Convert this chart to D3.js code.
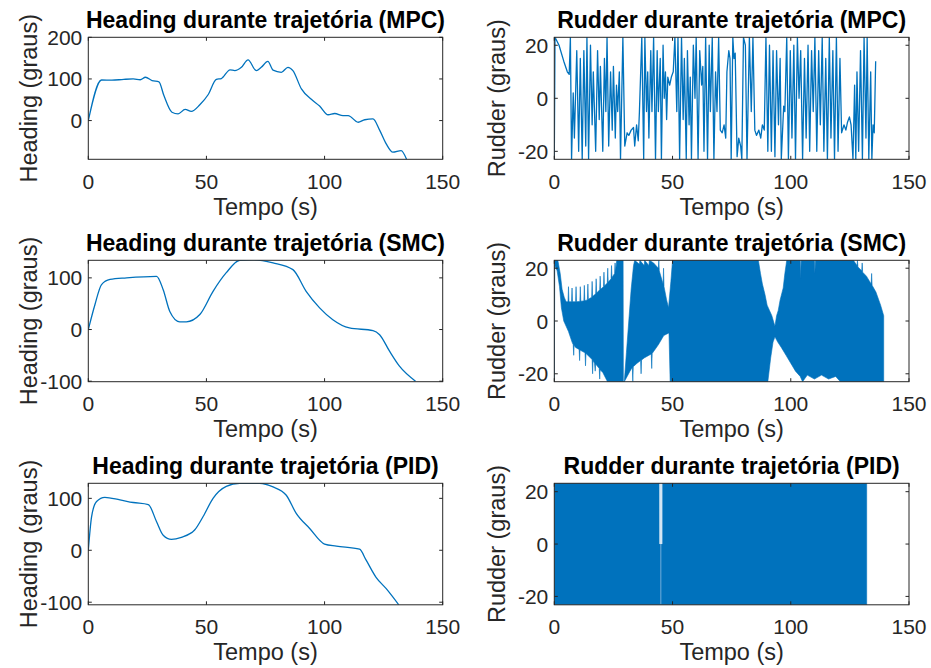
<!DOCTYPE html>
<meta charset="utf-8">
<style>
body { margin: 0; background: #fff; }
text { font-family: "Liberation Sans", Arial, Helvetica, sans-serif; fill: #262626; }
.tick-label { font-size: 21px; }
.axis-label { font-size: 23.5px; }
.title { font-size: 23px; font-weight: bold; fill: #000; }
.frame { fill: none; stroke: #262626; stroke-width: 1; }
.tick { stroke: #262626; stroke-width: 1; }
.trace { fill: none; stroke: #0072BD; stroke-width: 1.3; stroke-linejoin: round; }
.band { fill: #0072BD; stroke: #0072BD; stroke-width: 0.6; }
</style>
<body>
<svg width="931" height="668"></svg>
<script src="https://d3js.org/d3.v7.min.js"></script>
<script>

// ---- data ----
var tempoTicks = [0, 50, 100, 150];
var headingTicksMPC = [0, 100, 200];
var headingTicks = [-100, 0, 100];
var rudderTicks = [-20, 0, 20];

var headingMPC = [[0,0],[5.6,97.5],[10,97],[15,99],[19,100],[22,98],[24.2,104],[27,96],[29.9,93],[32,60],
  [35.4,20],[38,16],[41,27],[43.6,22],[47.2,38],[50.7,62],[54.2,99],[56.3,101],[60,122],[62,120],
  [64.8,128],[67.6,146],[71.1,120],[73.2,128],[76,142],[78.2,121],[81.7,116],[84.5,128],[86.6,120],
  [90.2,76],[94.4,51],[97.9,35],[101.5,14],[104.3,17],[107.8,12],[110,12],[114.2,-4],[117,2],
  [120.5,4],[123.3,-23],[126.1,-56],[128.9,-76],[132.4,-72],[134.8,-94]];

var headingSMC = [[0,0],[2.8,48],[5.6,87],[9.2,97],[16.2,100],[28.9,103],[31.7,77],[34.5,35],[38.7,15],
  [41.5,15],[47.2,29],[52.8,74],[58.4,110],[64.1,134],[69.7,135],[78.2,129],[86.6,116],[92.2,74],
  [97.9,42],[103.5,19],[110.5,3],[120.5,-2],[123.3,-10],[127.5,-42],[131.7,-71],[138.5,-100]];

var headingPID = [[0,0],[1.4,65],[3.5,94],[7,102],[13.4,97],[19,92],[25.4,88],[28.9,55],[31.7,29],
  [35.2,21],[39.4,25],[45,39],[48.6,65],[52.8,100],[58.4,123],[64.1,129],[72.5,129],[78.2,122],
  [83.8,106],[88,71],[93.7,42],[100,12],[105,8],[114.8,2],[117.6,-19],[121.8,-52],[126.1,-74],[131.4,-105]];

var rudderMPC = [[0,-23],[0.3,23],[2,20],[4,14],[5.5,10],[6.3,9],[6.8,23],[7.3,-23],[8,2],[8.5,-15],
  [9.5,18],[10.3,-20],[11,15],[11.8,-23],[12.5,18],[13.3,-18],[13.8,23],[14.5,-23],[15.3,20],[16,-10],
  [16.5,10],[17.5,-20],[18.3,18],[19,-8],[19.5,12],[20.5,-20],[21.2,15],[21.8,-5],[22.3,23],[23,-18],
  [23.8,10],[24.5,-12],[25,12],[25.8,-15],[26.3,5],[26.8,-5],[27.5,10],[28,-23],[29,23],[29.8,-18],
  [30.8,-13],[31.5,-14],[32.5,-12],[33.5,-11],[34,-18],[34.8,-10],[35.5,-16],[36,-5],[37,23],[37.8,-23],
  [38.3,23],[39,-5],[39.5,10],[40,-15],[40.8,18],[41.3,-5],[42,23],[42.8,-23],[43.5,18],[44,-5],
  [44.8,15],[45.3,-23],[46,20],[46.5,0],[47,10],[47.5,-8],[48,8],[48.8,5],[49.5,8],[50.3,10],
  [51,23],[51.8,-5],[52.3,23],[53,-23],[53.8,23],[54.5,-8],[55,15],[55.8,-23],[56.3,18],[57,-10],
  [57.5,8],[58,-23],[58.8,20],[59.5,0],[60,23],[60.8,-23],[61.5,18],[62.3,5],[62.8,12],[63.3,-20],
  [64,23],[64.8,-23],[65.5,20],[66,-5],[66.8,23],[67.5,-23],[68.2,10],[68.8,-5],[69.5,23],[70.2,-12],
  [71,-13],[71.8,-10],[72.5,-15],[73,10],[73.8,18],[74.3,15],[74.8,-23],[75.5,23],[76,15],[76.5,17],
  [77.3,-22],[78,-15],[78.8,-18],[79.3,-23],[80,23],[80.8,20],[81.5,-23],[82.5,23],[83.3,-5],[84,23],
  [84.8,-12],[85.5,-14],[86.5,-12],[87.3,-15],[88,-10],[88.8,-12],[89.5,23],[90.3,-20],[91,20],[91.8,-20],
  [92.5,18],[93.3,-22],[94,18],[94.8,-10],[95.5,15],[96,-23],[97,-3],[97.5,-5],[98.3,23],[99,-23],
  [99.8,18],[100.5,-15],[101.3,20],[102,-23],[102.8,23],[103.5,0],[104.2,18],[105,-23],[105.8,15],[106.5,-15],
  [107.3,20],[108,-20],[108.8,18],[109.5,-5],[110.2,23],[111,-20],[111.8,18],[112.5,-10],[113.3,23],[114,-20],
  [114.8,15],[115.5,-23],[116.3,23],[117,-15],[117.8,18],[118.5,-23],[119.3,23],[120,-20],[120.8,15],[121.5,-13],
  [122.5,-10],[123.3,-12],[124,-9],[124.8,-7],[125.5,-10],[126.3,-23],[127,5],[127.5,-23],[128,10],[128.7,-20],
  [129.5,18],[130.3,-23],[131,23],[131.8,-15],[132.3,23],[133,-23],[133.8,10],[134.3,-23],[134.8,-10],[135.3,-13],
  [135.9,14]];

// SMC and PID rudder chatter so fast that the trace fills a band: upper / lower envelopes
var rudderSMCUpper = [[0,23],[1.5,23],[2.5,18],[3.3,12],[4.2,9],[5,7.3],[5.8,7.3],[6,13],[6.2,7.3],
  [7.3,7.3],[7.5,12.5],[7.7,7.3],[9,7.3],[9.2,13],[9.4,7.3],[10.8,7.4],[11,13],[11.2,7.5],[12.5,7.6],
  [12.7,13.5],[12.9,7.7],[14,8],[14.2,14],[14.4,8.2],[15.8,9],[16,15],[16.2,9.3],[17.5,10.3],[17.7,16],
  [17.9,10.6],[19.2,11.8],[19.4,17],[19.6,12],[20.8,13],[21,18.5],[21.2,13.3],[22.4,14.4],[22.6,20],
  [22.8,14.7],[24,16],[24.2,21],[24.4,16.5],[25.5,18],[25.7,22],[25.9,18.5],[26.4,23],
  [29.1,23],[29.2,-23],[29.6,-23],[30.5,-12],[31.5,0],[32.5,12],[33.5,21],[34,23],[36,21.5],[36.2,23],
  [38,21],[38.2,23],[40,21],[40.2,23],[42,22],[44,20],[44.2,23],[44.4,19],[46,14],[46.2,20],[46.4,13],
  [47.5,8],[48.3,5],[49.3,15],[50,23],[86.3,23],[87.2,18],[88,14],[89.1,10],[90,6],[91,4],[92,2],
  [93.3,-2],[94,2],[94.7,4],[95.5,8],[96.8,12.5],[97.5,18],[98.3,23],[104,23],[104.2,16],[104.4,23],
  [110,23],[110.2,18],[110.4,23],[126.5,23],[128,21],[128.2,23],[128.4,20.5],[130,19],[130.2,22],
  [130.4,18.5],[132,17],[134,14],[134.2,18],[134.4,13.5],[136,11],[138,6],[139.3,2]];
var rudderSMCLower = [[0,-23],[0.2,21],[1.2,19],[2.2,13],[3,5],[4,0],[5,-2],[6,-4],[7.5,-8],[8,-9],
  [8.2,-13],[8.4,-9.2],[9,-10],[10.5,-10.8],[10.7,-15],[10.9,-11],[12,-11.6],[13,-12],[13.2,-17],
  [13.4,-12.3],[16,-14.6],[16.2,-20],[16.4,-15],[17,-16],[17.3,-19],[17.5,-16.3],[19,-18],[19.2,-22],
  [19.4,-18.5],[20.5,-19.5],[22.5,-23],[29.6,-23],[32,-19],[33,-17.5],[33.2,-23],[33.4,-17.3],[35,-16],
  [36.5,-15],[36.7,-20],[36.9,-14.8],[38,-14],[41,-12.5],[41.2,-18],[41.4,-12.3],[44,-9],[46.3,-5.5],
  [48.5,-4.5],[49,-23],[90.3,-23],[91.5,-14],[92.5,-8],[93.3,-6],[94.5,-8],[96,-10],[98,-13],[100,-16],
  [102,-19],[104,-21],[105,-23],[107,-20.5],[110,-22],[113,-20.5],[116,-22],[119,-21],[121,-23],
  [137.5,-23],[139.3,-23]];

var rudderPIDUpper = [[0,23.2],[44.4,23.2],[44.45,0],[45.65,0],[45.7,23.2],[132.1,23.2]];
var rudderPIDLower = [[0,-23.2],[132.1,-23.2]];
var pidGap = [44.45, 45.65];

// ---- layout ----
var svg = d3.select("svg");
var cols = [[88.3, 442.7], [554.3, 909]];
var rows = [[37.3, 159.3], [260.3, 381.7], [483.3, 604.8]];

var panels = [
  {r:0, c:0, title:"Heading durante trajetória (MPC)", ylab:"Heading (graus)", ydom:[-93,200], yt:headingTicksMPC, line:headingMPC, smooth:true},
  {r:0, c:1, title:"Rudder durante trajetória (MPC)", ylab:"Rudder (graus)", ydom:[-23,23], yt:rudderTicks, line:rudderMPC},
  {r:1, c:0, title:"Heading durante trajetória (SMC)", ylab:"Heading (graus)", ydom:[-101,134], yt:headingTicks, line:headingSMC, smooth:true},
  {r:1, c:1, title:"Rudder durante trajetória (SMC)", ylab:"Rudder (graus)", ydom:[-23,23], yt:rudderTicks, up:rudderSMCUpper, lo:rudderSMCLower},
  {r:2, c:0, title:"Heading durante trajetória (PID)", ylab:"Heading (graus)", ydom:[-105,129], yt:headingTicks, line:headingPID, smooth:true},
  {r:2, c:1, title:"Rudder durante trajetória (PID)", ylab:"Rudder (graus)", ydom:[-23.2,23.2], yt:rudderTicks, up:rudderPIDUpper, lo:rudderPIDLower, gap:pidGap}
];

var defs = svg.append("defs");

panels.forEach(function(p, i) {
  var x0 = cols[p.c][0], x1 = cols[p.c][1], y0 = rows[p.r][0], y1 = rows[p.r][1];
  var x = d3.scaleLinear().domain([0, 150]).range([x0, x1]);
  var y = d3.scaleLinear().domain(p.ydom).range([y1, y0]);
  var g = svg.append("g");

  defs.append("clipPath").attr("id", "clip" + i)
    .append("rect").attr("x", x0).attr("y", y0).attr("width", x1 - x0).attr("height", y1 - y0);

  var plot = g.append("g").attr("clip-path", "url(#clip" + i + ")");
  var line = d3.line().x(function(d) { return x(d[0]); }).y(function(d) { return y(d[1]); });

  if (p.line) {
    if (p.smooth) line.curve(d3.curveMonotoneX);
    plot.append("path").datum(p.line).attr("class", "trace").attr("d", line);
  } else {
    var poly = p.up.concat(p.lo.slice().reverse());
    plot.append("path").datum(poly).attr("class", "band")
      .attr("d", function(d) { return line(d) + "Z"; });
    if (p.gap) {
      plot.append("rect").attr("x", x(p.gap[0])).attr("width", x(p.gap[1]) - x(p.gap[0]))
        .attr("y", y(p.ydom[1])).attr("height", y(0) - y(p.ydom[1])).attr("fill", "#d4e6f4");
      plot.append("line").attr("x1", x(d3.mean(p.gap))).attr("x2", x(d3.mean(p.gap)))
        .attr("y1", y(0)).attr("y2", y(p.ydom[0])).attr("stroke", "#8fbbe2").attr("stroke-width", 0.8);
    }
  }

  // frame and inward ticks on all sides
  g.append("rect").attr("class", "frame").attr("x", x0).attr("y", y0).attr("width", x1 - x0).attr("height", y1 - y0);
  var tl = 3.5;
  tempoTicks.forEach(function(t) {
    g.append("line").attr("class", "tick").attr("x1", x(t)).attr("x2", x(t)).attr("y1", y1).attr("y2", y1 - tl);
    g.append("line").attr("class", "tick").attr("x1", x(t)).attr("x2", x(t)).attr("y1", y0).attr("y2", y0 + tl);
    g.append("text").attr("class", "tick-label").attr("x", x(t)).attr("y", y1 + 29.5)
      .attr("text-anchor", "middle").text(t);
  });
  p.yt.forEach(function(v) {
    g.append("line").attr("class", "tick").attr("x1", x0).attr("x2", x0 + tl).attr("y1", y(v)).attr("y2", y(v));
    g.append("line").attr("class", "tick").attr("x1", x1).attr("x2", x1 - tl).attr("y1", y(v)).attr("y2", y(v));
    g.append("text").attr("class", "tick-label").attr("x", x0 - 6).attr("y", y(v))
      .attr("dy", "0.36em").attr("text-anchor", "end").text(v);
  });

  g.append("text").attr("class", "title").attr("x", (x0 + x1) / 2).attr("y", y0 - 9)
    .attr("text-anchor", "middle").text(p.title);
  g.append("text").attr("class", "axis-label").attr("x", (x0 + x1) / 2).attr("y", y1 + 55.5)
    .attr("text-anchor", "middle").text("Tempo (s)");
  var lx = p.c === 0 ? x0 - 51 : x0 - 49;
  g.append("text").attr("class", "axis-label")
    .attr("transform", "translate(" + lx + "," + ((y0 + y1) / 2) + ") rotate(-90)")
    .attr("text-anchor", "middle").text(p.ylab);
});

</script>
</body>
